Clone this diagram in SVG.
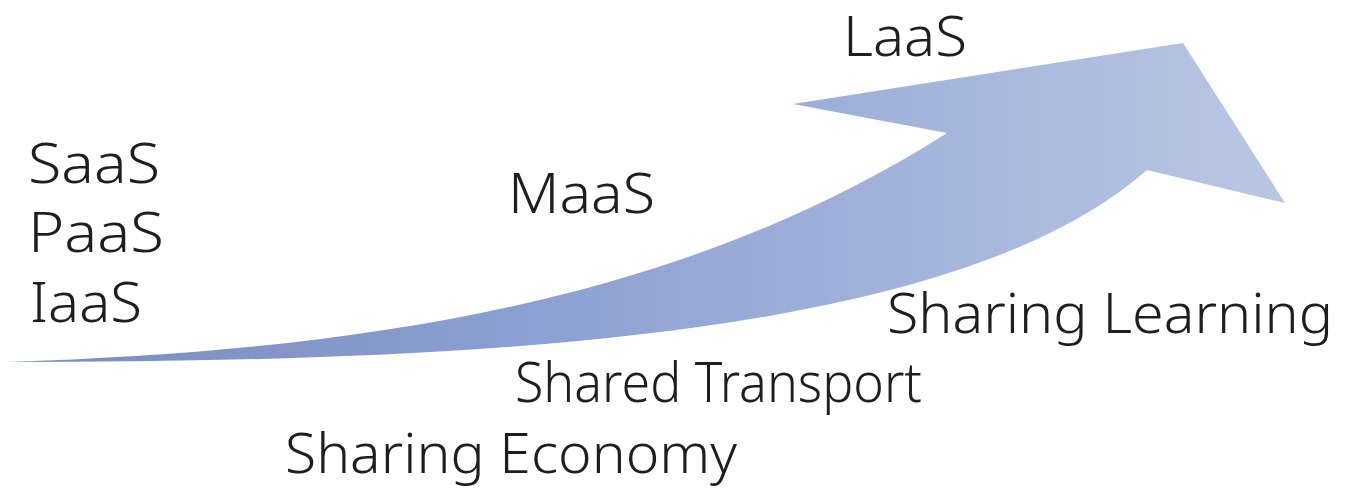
<svg xmlns="http://www.w3.org/2000/svg" width="1353" height="488" viewBox="0 0 1353 488">
<style>
.t{font-family:"Noto Sans","Open Sans","Liberation Sans",sans-serif;font-size:55px;font-weight:300;fill:#1e1e1e}
</style>
<defs>
<linearGradient id="g" x1="8" y1="0" x2="1285" y2="0" gradientUnits="userSpaceOnUse">
<stop offset="0" stop-color="#7a8cba"/>
<stop offset="0.4" stop-color="#8b9fd2"/>
<stop offset="0.75" stop-color="#a6b7dc"/>
<stop offset="1" stop-color="#bac7e2"/>
</linearGradient>
</defs>
<rect width="1353" height="488" fill="#ffffff"/>
<g id="arrow">
<path d="M 8,362 C 400,350 700,290 947,133 L 793,104 L 1183,43 L 1285,203 L 1147,170 C 960,335 500,362 8,362 Z" fill="url(#g)"/>
</g>
<g id="saas"><text class="t" x="28" y="183" textLength="132" lengthAdjust="spacingAndGlyphs">SaaS</text></g>
<g id="paas"><text class="t" x="28" y="252" textLength="136" lengthAdjust="spacingAndGlyphs">PaaS</text></g>
<g id="iaas"><text class="t" x="30" y="322" textLength="112" lengthAdjust="spacingAndGlyphs">IaaS</text></g>
<g id="maas"><text class="t" x="508" y="213" textLength="147" lengthAdjust="spacingAndGlyphs">MaaS</text></g>
<g id="laas"><text class="t" x="843" y="56" textLength="124" lengthAdjust="spacingAndGlyphs">LaaS</text></g>
<g id="sharing-learning"><text class="t" x="887" y="333" textLength="446" lengthAdjust="spacingAndGlyphs">Sharing Learning</text></g>
<g id="shared-transport"><text class="t" x="515" y="402" textLength="407" lengthAdjust="spacingAndGlyphs">Shared Transport</text></g>
<g id="sharing-economy"><text class="t" x="285" y="473" textLength="452" lengthAdjust="spacingAndGlyphs">Sharing Economy</text></g>
<g id="connectors"></g>
</svg>
